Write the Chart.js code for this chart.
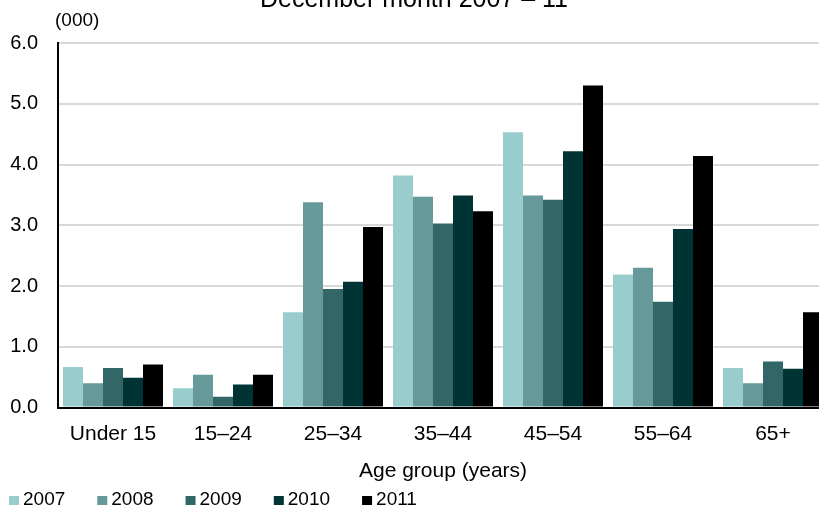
<!DOCTYPE html>
<html lang="en">
<head>
    <meta charset="UTF-8">
    <title>December month 2007 - 11</title>
    <script src="https://cdn.jsdelivr.net/npm/chart.js"></script>
    <style>
        body { margin: 0; overflow: hidden; background: #fff; }
        #chart-container { width: 830px; height: 510px; position: relative; }
    </style>
</head>
<body>
    <div id="chart-container">
        <canvas id="age-chart"></canvas>
    </div>

    <script>
        const ageGroups = ['Under 15', '15–24', '25–34', '35–44', '45–54', '55–64', '65+'];
        const years = ['2007', '2008', '2009', '2010', '2011'];
        const values2007 = [0.67, 0.32, 1.57, 3.82, 4.53, 2.19, 0.65];
        const values2008 = [0.40, 0.54, 3.38, 3.47, 3.49, 2.30, 0.40];
        const values2009 = [0.65, 0.18, 1.95, 3.03, 3.42, 1.74, 0.76];
        const values2010 = [0.49, 0.38, 2.07, 3.49, 4.22, 2.94, 0.64];
        const values2011 = [0.71, 0.54, 2.97, 3.23, 5.30, 4.14, 1.57];
        const yTicks = [0, 1, 2, 3, 4, 5, 6];

        const colours = ['#99cccc', '#669999', '#336666', '#003333', '#000000'];
        const seriesValues = [values2007, values2008, values2009, values2010, values2011];
        const font = '"Liberation Sans", Arial, sans-serif';

        // "(000)" unit label and the legend row along the bottom
        const extraText = {
            id: 'extraText',
            afterDraw(chart) {
                const ctx = chart.ctx;
                ctx.save();
                ctx.font = '19px ' + font;
                ctx.textBaseline = 'middle';
                ctx.textAlign = 'left';
                ctx.fillStyle = '#000';
                ctx.fillText('(000)', 55, 21);
                let x = 9;
                chart.data.datasets.forEach(ds => {
                    ctx.fillStyle = ds.backgroundColor;
                    ctx.fillRect(x, 496, 10, 9);
                    ctx.fillStyle = '#000';
                    ctx.fillText(ds.label, x + 14, 500);
                    x += 14 + ctx.measureText(ds.label).width + 32;
                });
                ctx.restore();
            }
        };

        new Chart(document.getElementById('age-chart'), {
            type: 'bar',
            data: {
                labels: ageGroups,
                datasets: years.map((y, i) => ({
                    label: y,
                    data: seriesValues[i],
                    backgroundColor: colours[i],
                    borderWidth: 0,
                    categoryPercentage: 100 / 110,
                    barPercentage: 1
                }))
            },
            options: {
                responsive: true,
                maintainAspectRatio: false,
                animation: false,
                layout: { padding: { left: 0, right: 2, top: 0, bottom: 26 } },
                plugins: {
                    legend: { display: false },
                    tooltip: { enabled: false },
                    title: {
                        display: true,
                        text: 'December month 2007 – 11',
                        color: '#000',
                        font: { family: font, size: 25, weight: 'normal' },
                        padding: { top: -15, bottom: 28 }
                    }
                },
                scales: {
                    x: {
                        grid: { display: false },
                        border: { color: '#000', width: 2 },
                        ticks: { color: '#000', font: { family: font, size: 21 }, padding: 6 },
                        title: {
                            display: true,
                            text: 'Age group (years)',
                            color: '#000',
                            font: { family: font, size: 21 },
                            padding: { top: 6, bottom: 0 }
                        }
                    },
                    y: {
                        min: 0,
                        max: 6,
                        afterBuildTicks: scale => { scale.ticks = yTicks.map(v => ({ value: v })); },
                        afterFit: scale => { scale.width = 58; },
                        grid: {
                            drawTicks: false,
                            lineWidth: 2,
                            color: c => c.tick && c.tick.value === 0 ? 'rgba(0,0,0,0)' : '#d9d9d9'
                        },
                        border: { color: '#000', width: 2 },
                        ticks: {
                            color: '#000',
                            padding: 20,
                            font: { family: font, size: 20 },
                            callback: v => v.toFixed(1)
                        }
                    }
                }
            },
            plugins: [extraText]
        });
    </script>
</body>
</html>
